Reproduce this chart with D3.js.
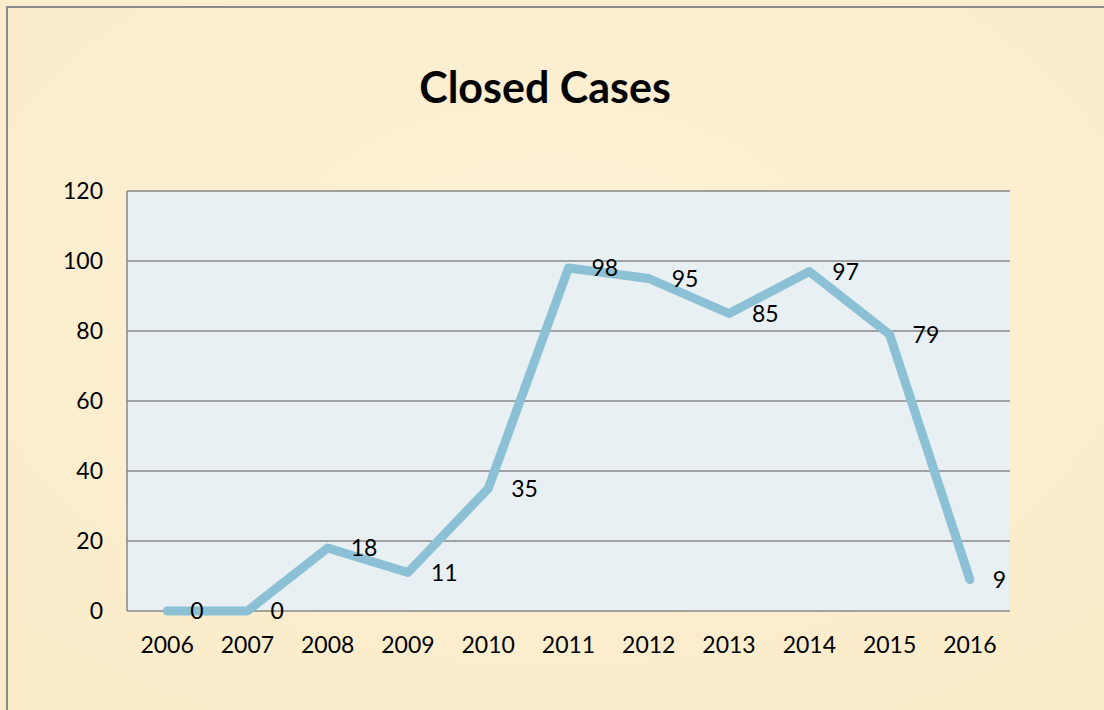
<!DOCTYPE html>
<html lang="en">
  <head>
    <meta charset="UTF-8" />
    <title>Closed Cases</title>
    <script src="https://d3js.org/d3.v7.min.js"></script>
    <style>
      body {
        margin: 0;
        background: #fdf0d4;
      }
      text {
        font-family: Lato, "Open Sans", sans-serif;
        fill: #000;
      }
    </style>
  </head>
  <body>
    <svg width="1104" height="710"></svg>
    <script>
      const years = ["2006", "2007", "2008", "2009", "2010", "2011", "2012", "2013", "2014", "2015", "2016"];
      const closed = [0, 0, 18, 11, 35, 98, 95, 85, 97, 79, 9];
      const yTicks = [0, 20, 40, 60, 80, 100, 120];

      const width = 1104;
      const height = 710;
      const plot = { left: 127, right: 1010, top: 191, bottom: 611 };

      const svg = d3.select("svg");

      // parchment-ish background
      const defs = svg.append("defs");
      const grad = defs
        .append("radialGradient")
        .attr("id", "paper")
        .attr("cx", "50%")
        .attr("cy", "40%")
        .attr("r", "75%");
      grad.append("stop").attr("offset", "0%").attr("stop-color", "#fdf1d6");
      grad.append("stop").attr("offset", "100%").attr("stop-color", "#fbecc9");

      svg
        .append("rect")
        .attr("width", width)
        .attr("height", height)
        .attr("fill", "url(#paper)");

      // outer frame (top + left visible)
      svg
        .append("path")
        .attr("d", `M7,${height} V7 H${width}`)
        .attr("fill", "none")
        .attr("stroke", "#8a8a8a")
        .attr("stroke-width", 2);

      const x = d3
        .scaleBand()
        .domain(years)
        .range([plot.left, plot.right]);

      const y = d3
        .scaleLinear()
        .domain([0, 120])
        .range([plot.bottom, plot.top]);

      svg
        .append("rect")
        .attr("x", plot.left)
        .attr("y", plot.top)
        .attr("width", plot.right - plot.left)
        .attr("height", plot.bottom - plot.top)
        .attr("fill", "#e8f0f3");

      // gridlines
      svg
        .append("g")
        .selectAll("line")
        .data(yTicks)
        .join("line")
        .attr("x1", plot.left)
        .attr("x2", plot.right)
        .attr("y1", (d) => y(d))
        .attr("y2", (d) => y(d))
        .attr("stroke", "#878787")
        .attr("stroke-width", 1.5);

      svg
        .append("line")
        .attr("x1", plot.left)
        .attr("x2", plot.left)
        .attr("y1", plot.top)
        .attr("y2", plot.bottom)
        .attr("stroke", "#878787")
        .attr("stroke-width", 1.5);

      // y axis labels
      svg
        .append("g")
        .selectAll("text")
        .data(yTicks)
        .join("text")
        .attr("x", 103)
        .attr("y", (d) => y(d))
        .attr("dy", "0.36em")
        .attr("text-anchor", "end")
        .style("font-size", "23px")
        .text((d) => d);

      // x axis labels
      svg
        .append("g")
        .selectAll("text")
        .data(years)
        .join("text")
        .attr("x", (d) => x(d) + x.bandwidth() / 2)
        .attr("y", 653)
        .attr("text-anchor", "middle")
        .style("font-size", "23px")
        .text((d) => d);

      const line = d3
        .line()
        .x((d, i) => x(years[i]) + x.bandwidth() / 2)
        .y((d) => y(d));

      svg
        .append("path")
        .datum(closed)
        .attr("d", line)
        .attr("fill", "none")
        .attr("stroke", "#8cc0d4")
        .attr("stroke-width", 9)
        .attr("stroke-linecap", "round")
        .attr("stroke-linejoin", "round");

      // data labels, to the right of each point
      svg
        .append("g")
        .selectAll("text")
        .data(closed)
        .join("text")
        .attr("x", (d, i) => x(years[i]) + x.bandwidth() / 2 + 23)
        .attr("y", (d) => y(d))
        .attr("dy", "0.36em")
        .style("font-size", "23px")
        .text((d) => d);

      svg
        .append("text")
        .attr("x", 545)
        .attr("y", 103)
        .attr("text-anchor", "middle")
        .style("font-size", "43px")
        .style("font-weight", "bold")
        .text("Closed Cases");
    </script>
  </body>
</html>
